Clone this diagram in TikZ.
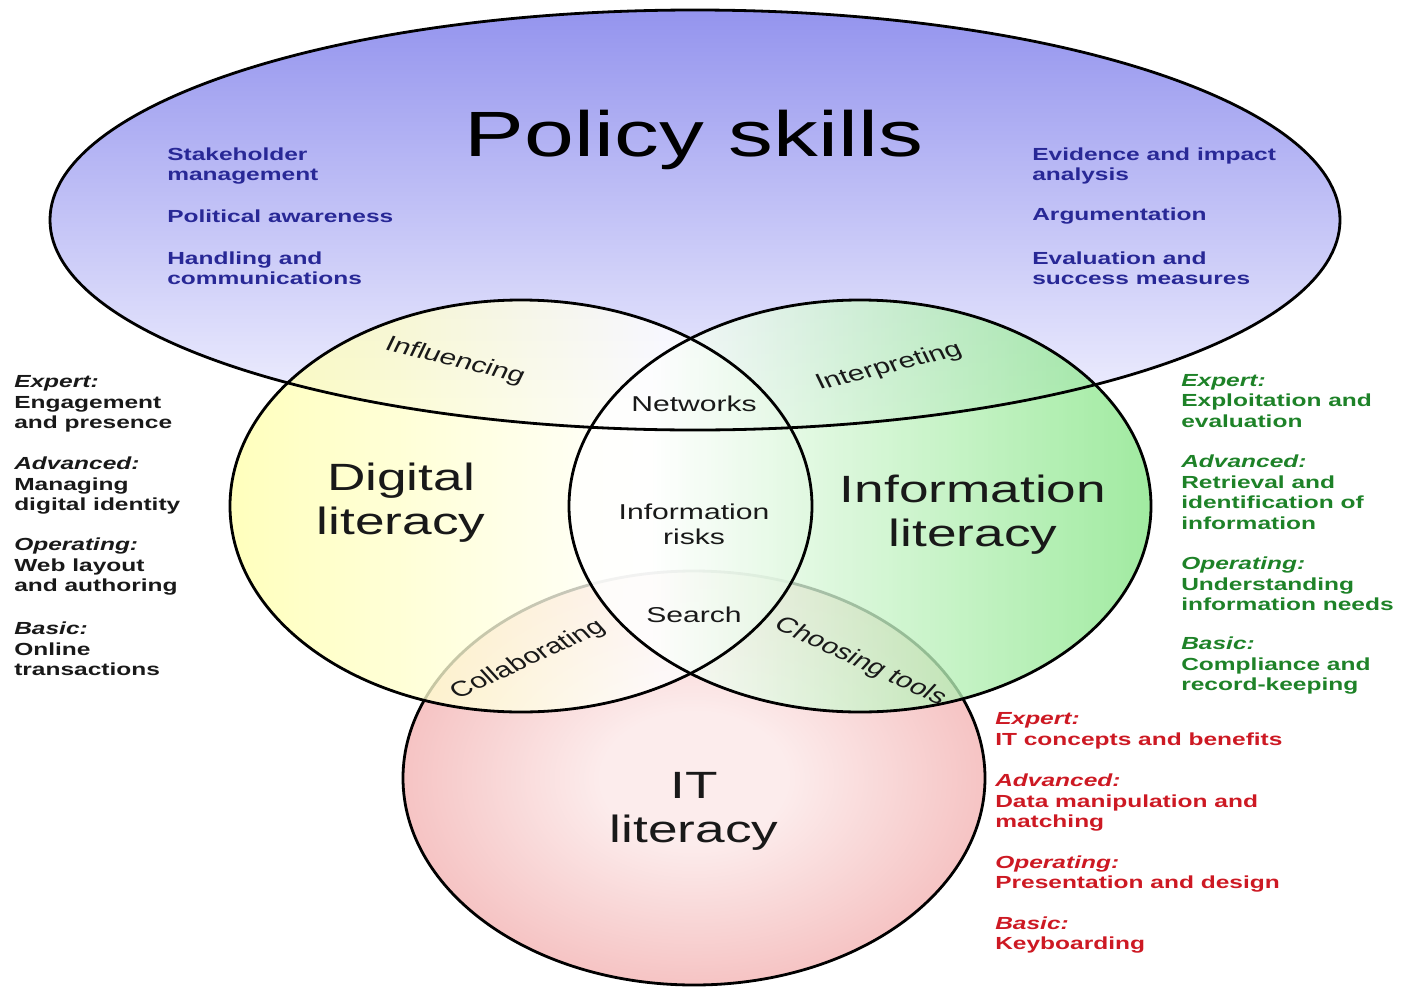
\documentclass[tikz,border=0pt]{standalone}
\usepackage{fontspec}
\setmainfont{Liberation Sans}
\usepackage{xcolor}
\usepackage{tikz}
\usetikzlibrary{shapes,calc}

\definecolor{polTop}{RGB}{148,148,238}
\definecolor{polBottom}{RGB}{244,244,255}
\definecolor{digYellow}{RGB}{255,255,140}
\definecolor{infGreen}{RGB}{120,226,120}
\definecolor{itOut}{RGB}{240,160,160}
\definecolor{itIn}{RGB}{252,236,236}
\definecolor{txtBlue}{RGB}{40,40,150}
\definecolor{txtGreen}{RGB}{30,130,40}
\definecolor{txtRed}{RGB}{205,25,35}
\definecolor{txtDark}{RGB}{25,25,25}

\pgfdeclareradialshading{itGlow}{\pgfpoint{0bp}{0bp}}{color(0bp)=(itIn); color(8bp)=(itIn); color(40bp)=(itOut); color(50bp)=(itOut)}
\pgfdeclarehorizontalshading{digGlow}{100bp}{color(0bp)=(digYellow); color(12bp)=(digYellow); color(62bp)=(white); color(100bp)=(white)}
\pgfdeclarehorizontalshading{infGlow}{100bp}{color(0bp)=(white); color(32bp)=(white); color(80bp)=(infGreen); color(100bp)=(infGreen)}

\tikzstyle{tsBase} = [
    inner sep=0pt,
    xscale=1.4
]
\tikzstyle{tsPolicy} = [
    tsBase,
    text=black,
    font=\fontsize{64}{70}\selectfont
]
\tikzstyle{tsTitle} = [
    tsBase,
    text=txtDark,
    align=center,
    font=\fontsize{38}{44}\selectfont
]
\tikzstyle{tsOverlap} = [
    tsBase,
    text=txtDark,
    align=center,
    font=\fontsize{21.5}{25}\selectfont
]
\tikzstyle{tsList} = [
    tsBase,
    align=left,
    anchor=west,
    font=\bfseries\fontsize{17.5}{20.5}\selectfont
]
\tikzstyle{tsRing} = [
    draw=black,
    line width=2.8pt
]

\begin{document}
\begin{tikzpicture}[x=1pt, y=-1pt]

        \useasboundingbox (0,0) rectangle (1403,988);

        % Shaded sets, IT literacy underneath
        \shade[top color=polTop, bottom color=polBottom]
        (695,220) ellipse [x radius=645pt, y radius=210pt];
        \shade[shading=itGlow]
        (694,778) ellipse [x radius=291pt, y radius=207pt];
        \draw[tsRing] (694,778) ellipse [x radius=291pt, y radius=207pt];
        \shade[shading=digGlow, fill opacity=0.78]
        (521,506) ellipse [x radius=291pt, y radius=206pt];
        \shade[shading=infGlow, fill opacity=0.78]
        (860,506) ellipse [x radius=291pt, y radius=206pt];

        % Outlines
        \draw[tsRing] (695,220) ellipse [x radius=645pt, y radius=210pt];
        \draw[tsRing] (521,506) ellipse [x radius=291pt, y radius=206pt];
        \draw[tsRing] (860,506) ellipse [x radius=291pt, y radius=206pt];

        % Set names
        \node[tsPolicy] (nPolicy) at (694,140) {Policy skills};
        \node[tsTitle] (nDigital) at (401,503) {Digital\\literacy};
        \node[tsTitle] (nInfo) at (973,515) {Information\\literacy};
        \node[tsTitle] (nIT) at (694,811) {IT\\literacy};

        % Overlaps
        \node[tsOverlap] (nNetworks) at (694,404) {Networks};
        \node[tsOverlap] (nRisks) at (694,524) {Information\\risks};
        \node[tsOverlap] (nSearch) at (694,615) {Search};
        \node[tsOverlap, rotate=-19] (nInfluencing) at (455,361) {Influencing};
        \node[tsOverlap, rotate=19] (nInterpreting) at (889,367) {Interpreting};
        \node[tsOverlap, rotate=33] (nCollab) at (528,660) {Collaborating};
        \node[tsOverlap, rotate=-33] (nChoosing) at (860,662) {Choosing tools};

        % Policy skills lists
        \node[tsList, text=txtBlue] (polStake) at (167,166) {Stakeholder\\management};
        \node[tsList, text=txtBlue] (polPolit) at (167,216) {Political awareness};
        \node[tsList, text=txtBlue] (polHandl) at (167,268) {Handling and\\communications};
        \node[tsList, text=txtBlue] (polEvid) at (1032,166) {Evidence and impact\\analysis};
        \node[tsList, text=txtBlue] (polArgu) at (1032,216) {Argumentation};
        \node[tsList, text=txtBlue] (polEval) at (1032,268) {Evaluation and\\success measures};

        % Digital literacy levels
        \node[tsList, text=txtDark] (digExpert) at (14,404) {\textit{Expert:}\\Engagement\\and presence};
        \node[tsList, text=txtDark] (digAdvanced) at (14,486) {\textit{Advanced:}\\Managing\\digital identity};
        \node[tsList, text=txtDark] (digOperating) at (14,567) {\textit{Operating:}\\Web layout\\and authoring};
        \node[tsList, text=txtDark] (digBasic) at (14,649) {\textit{Basic:}\\Online\\transactions};

        % Information literacy levels
        \node[tsList, text=txtGreen] (infExpert) at (1181,401) {\textit{Expert:}\\Exploitation and\\evaluation};
        \node[tsList, text=txtGreen] (infAdvanced) at (1181,492) {\textit{Advanced:}\\Retrieval and\\identification of\\information};
        \node[tsList, text=txtGreen] (infOperating) at (1181,584) {\textit{Operating:}\\Understanding\\information needs};
        \node[tsList, text=txtGreen] (infBasic) at (1181,666) {\textit{Basic:}\\Compliance and\\record-keeping};

        % IT literacy levels
        \node[tsList, text=txtRed] (itExpert) at (995,731) {\textit{Expert:}\\IT concepts and benefits};
        \node[tsList, text=txtRed] (itAdvanced) at (995,803) {\textit{Advanced:}\\Data manipulation and\\matching};
        \node[tsList, text=txtRed] (itOperating) at (995,874) {\textit{Operating:}\\Presentation and design};
        \node[tsList, text=txtRed] (itBasic) at (995,935) {\textit{Basic:}\\Keyboarding};

    \end{tikzpicture}
\end{document}
